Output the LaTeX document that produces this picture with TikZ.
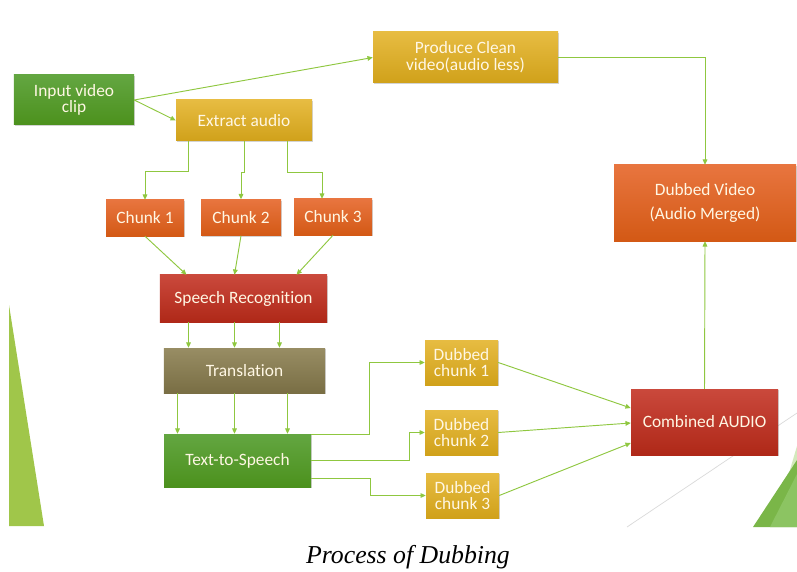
\documentclass[tikz,border=0pt]{standalone}
\usepackage{fontspec}
\setmainfont{Carlito}[Ligatures=NoCommon]
\newfontfamily\captionserif{Liberation Serif}
\usetikzlibrary{arrows.meta,shadows}

\newcommand{\pxl}{0.03cm}

\definecolor{greentop}{HTML}{63A641}
\definecolor{greenbot}{HTML}{4C911D}
\definecolor{goldtop}{HTML}{E7BC42}
\definecolor{goldbot}{HTML}{D0A11A}
\definecolor{orangetop}{HTML}{E8753F}
\definecolor{orangebot}{HTML}{D35915}
\definecolor{redtop}{HTML}{CA493C}
\definecolor{redbot}{HTML}{AF2818}
\definecolor{olivetop}{HTML}{988D64}
\definecolor{olivebot}{HTML}{796E44}
\definecolor{boxtext}{HTML}{FFF7E4}
\definecolor{linkgreen}{HTML}{8FC740}
\definecolor{slidegreen}{HTML}{A0C64A}
\definecolor{cornerlight}{HTML}{D3E9BC}
\definecolor{cornermid}{HTML}{7AB648}
\definecolor{cornerpale}{HTML}{8CC462}

\tikzset{
  box/.style={rectangle, inner sep=0pt, align=center, text=boxtext,
    font=\fontsize{14.8}{14.2}\selectfont,
    drop shadow={shadow xshift=1pt, shadow yshift=-1.2pt, opacity=0.35}},
  greenbox/.style={box, top color=greentop, bottom color=greenbot},
  goldbox/.style={box, top color=goldtop, bottom color=goldbot},
  orangebox/.style={box, top color=orangetop, bottom color=orangebot},
  redbox/.style={box, top color=redtop, bottom color=redbot},
  olivebox/.style={box, top color=olivetop, bottom color=olivebot},
  link/.style={draw=linkgreen, line width=0.8pt, -{Triangle[length=4.5pt,width=4pt]}},
}

\begin{document}
\begin{tikzpicture}[x=0.03cm, y=-0.03cm]

	\useasboundingbox (0,0) rectangle (797,572);

	% slide background
	\fill[slidegreen] (9,305) -- (9,526) -- (44,526) -- cycle;
	\draw[black!15, line width=0.6pt] (797,413) -- (627,527);
	\fill[cornerlight] (797,446) -- (784,490) -- (797,482) -- cycle;
	\fill[cornermid] (797,460) -- (753,527) -- (797,527) -- cycle;
	\fill[cornerpale] (797,474) -- (770,527) -- (797,527) -- cycle;

	% boxes
	\node[greenbox, minimum width=3.6cm, minimum height=1.5cm] (input) at (74,100) {Input video\\clip};
	\node[goldbox, minimum width=5.55cm, minimum height=1.53cm] (clean) at (465.5,57.5) {Produce Clean\\video(audio less)};
	\node[goldbox, minimum width=4.08cm, minimum height=1.23cm] (extract) at (244,120.5) {Extract audio};

	\node[orangebox, minimum width=2.34cm, minimum height=1.08cm] (chunka) at (145,218) {Chunk 1};
	\node[orangebox, minimum width=2.4cm, minimum height=1.08cm] (chunkb) at (241,217.5) {Chunk 2};
	\node[orangebox, minimum width=2.34cm, minimum height=1.08cm] (chunkc) at (333,217) {Chunk 3};

	\node[redbox, minimum width=5.01cm, minimum height=1.41cm] (speech) at (243.5,298.5) {Speech Recognition};
	\node[olivebox, minimum width=4.83cm, minimum height=1.35cm] (transl) at (244.5,370.5) {Translation};
	\node[greenbox, minimum width=4.41cm, minimum height=1.59cm] (tts) at (237.5,460.5) {Text-to-Speech};

	\node[goldbox, minimum width=2.19cm, minimum height=1.35cm] (duba) at (461.5,362.5) {Dubbed\\chunk 1};
	\node[goldbox, minimum width=2.19cm, minimum height=1.35cm] (dubb) at (461.5,432.5) {Dubbed\\chunk 2};
	\node[goldbox, minimum width=2.19cm, minimum height=1.35cm] (dubc) at (462.5,495.5) {Dubbed\\chunk 3};

	\node[redbox, minimum width=4.41cm, minimum height=1.98cm] (combined) at (704.5,422) {Combined AUDIO};
	\node[orangebox, minimum width=5.46cm, minimum height=2.28cm, font=\fontsize{14.8}{21}\selectfont] (dubvideo) at (705,203) {Dubbed Video\\(Audio Merged)};

	\node[font=\captionserif\itshape\fontsize{22}{26}\selectfont] (caption) at (408,557) {Process of Dubbing};

	% connectors
	\draw[link] (input.east) -- (clean.west);
	\draw[link] (input.east) -- (extract.west);

	\draw[link] ([xshift=-56*\pxl]extract.south) -- ++(0,30) -| (chunka.north);
	\draw[link] (extract.south) -- ++(0,31) -| (chunkb.north);
	\draw[link] ([xshift=43*\pxl]extract.south) -- ++(0,31) -| ([xshift=-11*\pxl]chunkc.north);

	\draw[link] (chunka.south) -- ([xshift=-57*\pxl]speech.north);
	\draw[link] (chunkb.south) -- ([xshift=-9*\pxl]speech.north);
	\draw[link] (chunkc.south) -- ([xshift=53*\pxl]speech.north);

	\foreach \dx in {-55,-9,36}
		\draw[link] ([xshift=\dx*\pxl]speech.south) -- ([xshift=\dx*\pxl]speech.south |- transl.north);
	\foreach \dx in {-67,-10,43}
		\draw[link] ([xshift=\dx*\pxl]transl.south) -- ([xshift=\dx*\pxl]transl.south |- tts.north);

	\draw[link] ([yshift=-1*\pxl]tts.north east) -- ++(58,0) |- (duba.west);
	\draw[link] (tts.east) -- ++(98,0) |- (dubb.west);
	\draw[link] ([yshift=-17.5*\pxl]tts.east) -- ++(59,0) |- (dubc.west);

	\draw[link] (duba.east) -- ([yshift=14*\pxl]combined.west);
	\draw[link] (dubb.east) -- ([yshift=-1*\pxl]combined.west);
	\draw[link] (dubc.east) -- ([yshift=-21*\pxl]combined.west);

	\draw[link] (combined.north) -- (dubvideo.south);
	\draw[link] (clean.east) -| (dubvideo.north);

\end{tikzpicture}
\end{document}
